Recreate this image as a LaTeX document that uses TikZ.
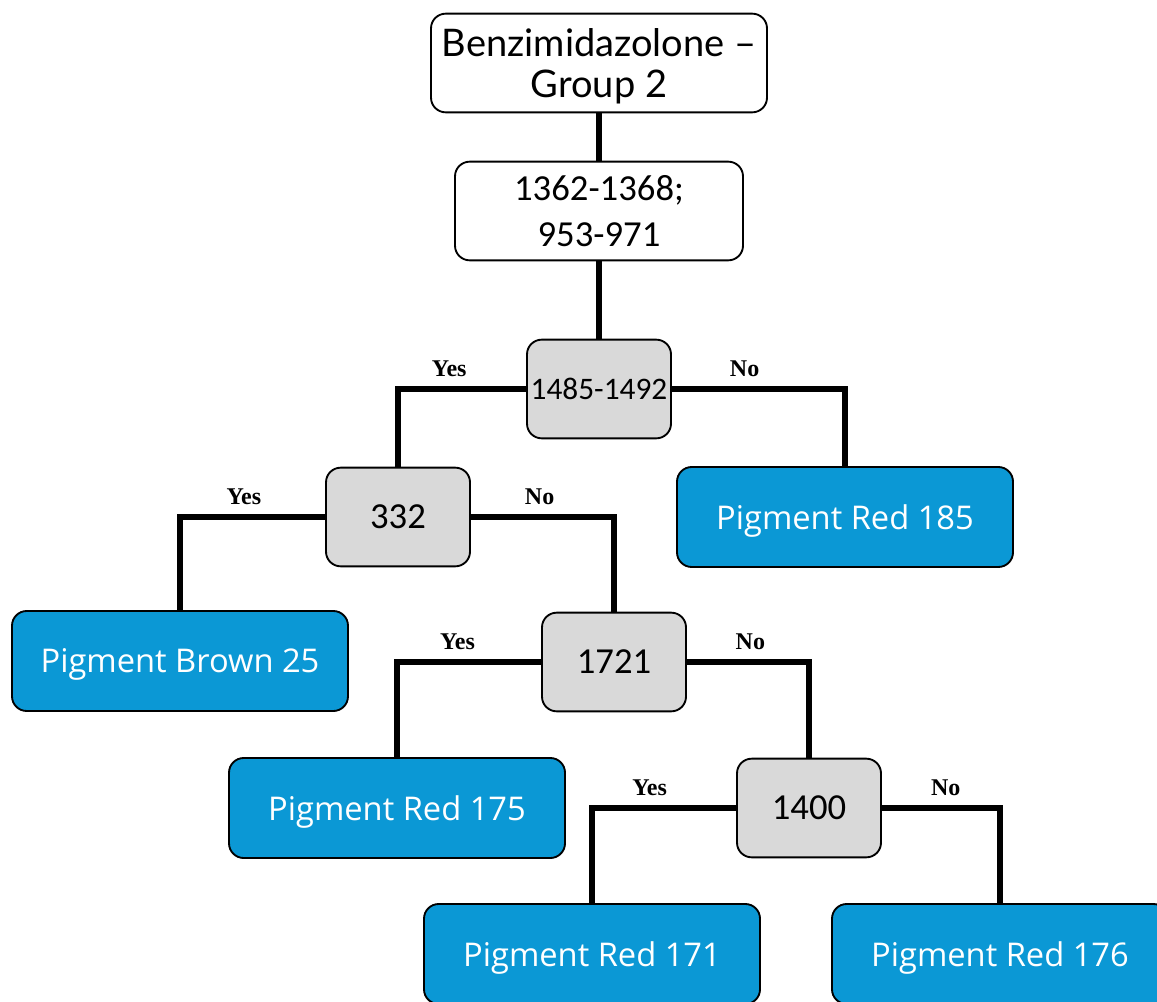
\documentclass[tikz,border=0pt]{standalone}
\usepackage{fontspec}
\newfontfamily\headfont{Lato}
\newfontfamily\numfont{Carlito}
\newfontfamily\pigfont{Open Sans}
\newfontfamily\lblfont{Liberation Serif}

\definecolor{pigblue}{HTML}{0B98D5}
\definecolor{testgray}{HTML}{D9D9D9}

\tikzset{
  box/.style={draw=black, line width=1.4pt, rounded corners=11pt, align=center, inner sep=0pt},
  startbox/.style={box, fill=white, minimum width=252pt, minimum height=74pt, text depth=0pt, font=\headfont\fontsize{28.5}{32}\selectfont},
  rangebox/.style={box, fill=white, minimum width=216pt, minimum height=74pt, font=\numfont\fontsize{27.5}{35}\selectfont},
  testbox/.style={box, fill=testgray, minimum width=108pt, minimum height=74pt, font=\numfont\fontsize{27.5}{30}\selectfont},
  pigment/.style={box, fill=pigblue, text=white, minimum width=252pt, minimum height=75pt, text depth=0pt, font=\pigfont\fontsize{24.5}{28}\selectfont},
  branch/.style={line width=4pt},
  lbl/.style={above=6pt, font=\lblfont\bfseries\fontsize{18}{20}\selectfont, inner sep=1pt},
}

\begin{document}
\begin{tikzpicture}[x=0.75pt, y=-0.75pt]
  \useasboundingbox (0,0) rectangle (1157,1002);

  % nodes
  \node[startbox] (grp) at (599,63) {Benzimidazolone –\\[-1pt]Group 2};
  \node[rangebox] (rng) at (599,211) {1362-1368;\\953-971};
  \node[testbox, font=\numfont\fontsize{23.5}{26}\selectfont] (t1485) at (599,389) {1485-1492};
  \node[testbox] (t332) at (398,517) {332};
  \node[pigment] (pr185) at (845,517) {Pigment Red 185};
  \node[pigment] (pb25) at (180,661) {Pigment Brown 25};
  \node[testbox] (t1721) at (614,662) {1721};
  \node[pigment] (pr175) at (397,808) {Pigment Red 175};
  \node[testbox] (t1400) at (809,808) {1400};
  \node[pigment] (pr171) at (592,954) {Pigment Red 171};
  \node[pigment] (pr176) at (1000,954) {Pigment Red 176};

  % connectors
  \draw[branch] (grp) -- (rng);
  \draw[branch] (rng) -- (t1485);
  \draw[branch] (t1485.west) -| node[lbl, pos=0.3] {Yes} (t332.north);
  \draw[branch] (t1485.east) -| node[lbl, pos=0.21] {No} (pr185.north);
  \draw[branch] (t332.west) -| node[lbl, pos=0.28] {Yes} (pb25.north);
  \draw[branch] (t332.east) -| node[lbl, pos=0.24] {No} (t1721.north);
  \draw[branch] (t1721.west) -| node[lbl, pos=0.29] {Yes} (pr175.north);
  \draw[branch] (t1721.east) -| node[lbl, pos=0.26] {No} (t1400.north);
  \draw[branch] (t1400.west) -| node[lbl, pos=0.3] {Yes} (pr171.north);
  \draw[branch] (t1400.east) -| node[lbl, pos=0.27] {No} (pr176.north);
\end{tikzpicture}
\end{document}
